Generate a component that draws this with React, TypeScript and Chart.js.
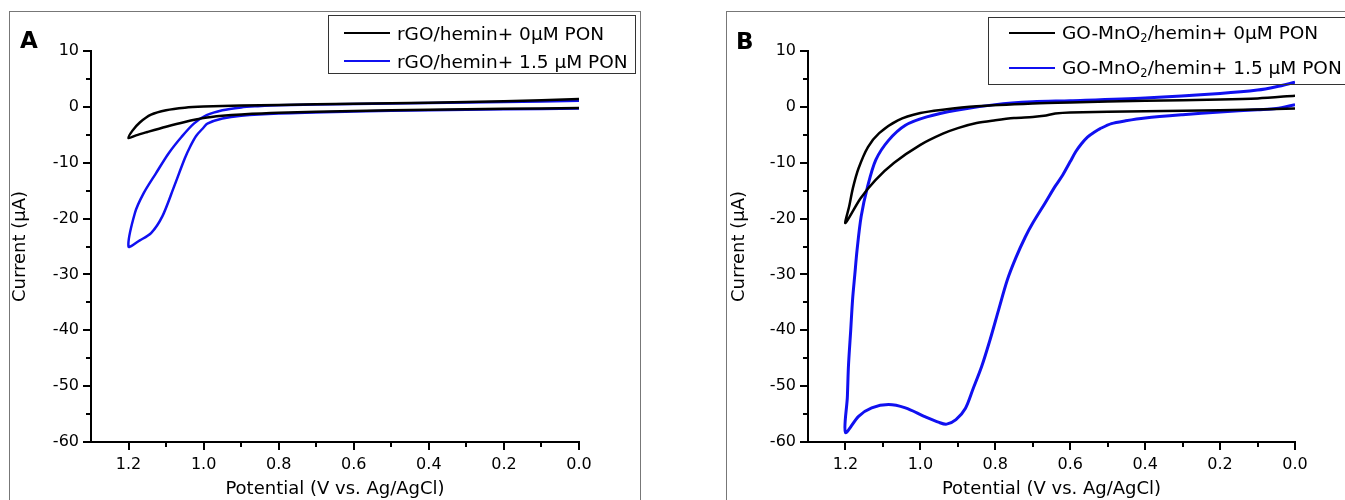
import React, { useEffect, useRef } from "react";
import { Chart, registerables } from "chart.js";

Chart.register(...registerables);

// ---------- tick values ----------
const xTickValues = [1.2, 1.0, 0.8, 0.6, 0.4, 0.2, 0.0];
const xMinorValues = [1.1, 0.9, 0.7, 0.5, 0.3, 0.1];
const yTickValues = [10, 0, -10, -20, -30, -40, -50, -60];
const yMinorValues = [5, -5, -15, -25, -35, -45, -55];

// ---------- panel A : rGO/hemin ----------
const aBlackV = [0.0, 0.2, 0.4, 0.6, 0.8, 0.9, 0.95, 1.0, 1.05, 1.1, 1.15, 1.18, 1.2,
  1.19, 1.17, 1.14, 1.1, 1.05, 1.0, 0.9, 0.8, 0.6, 0.4, 0.2, 0.0];
const aBlackI = [-0.2, -0.35, -0.5, -0.75, -1.05, -1.35, -1.6, -2.0, -2.7, -3.55, -4.5, -5.1, -5.6,
  -4.3, -2.8, -1.4, -0.6, -0.15, 0.05, 0.25, 0.35, 0.55, 0.75, 1.0, 1.4];

const aBlueV = [0.0, 0.2, 0.4, 0.6, 0.8, 0.9, 0.95, 0.99, 1.0, 1.02, 1.035, 1.05, 1.08, 1.11, 1.14, 1.17, 1.2,
  1.183, 1.16, 1.127, 1.093, 1.059, 1.026, 0.992, 0.95, 0.9, 0.86, 0.8, 0.6, 0.4, 0.2, 0.0];
const aBlueI = [-0.3, -0.45, -0.6, -0.85, -1.2, -1.6, -2.1, -3.0, -3.7, -5.2, -7.0, -9.2, -14.5, -19.6, -22.6, -23.9, -25.0,
  -19.0, -15.5, -11.9, -8.3, -5.4, -3.0, -1.5, -0.6, -0.1, 0.1, 0.3, 0.5, 0.7, 0.85, 1.1];

// ---------- panel B : GO-MnO2/hemin ----------
const bBlackV = [0.0, 0.2, 0.4, 0.6, 0.64, 0.67, 0.7, 0.75, 0.8, 0.85, 0.9, 0.94, 1.0, 1.07, 1.12, 1.16, 1.2,
  1.19, 1.18, 1.165, 1.14, 1.11, 1.06, 1.0, 0.94, 0.85, 0.7, 0.6, 0.4, 0.2, 0.1, 0.0];
const bBlackI = [-0.3, -0.6, -0.8, -1.0, -1.2, -1.6, -1.8, -2.0, -2.4, -2.9, -3.8, -4.8, -6.8, -10.0, -13.1, -16.4, -20.8,
  -17.8, -14.5, -11.0, -7.2, -4.7, -2.4, -1.1, -0.5, 0.1, 0.6, 0.8, 1.1, 1.3, 1.5, 2.0];

const bBlueV = [0.0, 0.05, 0.1, 0.2, 0.3, 0.4, 0.452, 0.49, 0.52, 0.535, 0.554, 0.57, 0.585, 0.6, 0.62, 0.64, 0.667, 0.7, 0.72, 0.745, 0.768, 0.791, 0.814, 0.836, 0.86, 0.88, 0.905, 0.93, 0.95, 0.99, 1.04, 1.085, 1.13, 1.165, 1.2,
  1.195, 1.192, 1.186, 1.181, 1.175, 1.169, 1.158, 1.141, 1.119, 1.085, 1.04, 0.983, 0.904, 0.8, 0.7, 0.6, 0.4, 0.2, 0.1, 0.05, 0.0];
const bBlueI = [0.4, -0.3, -0.5, -0.9, -1.4, -2.0, -2.5, -3.0, -3.9, -4.5, -5.4, -6.6, -8.0, -9.8, -12.2, -14.2, -17.2, -20.8, -23.3, -27.0, -31.0, -36.3, -41.7, -46.4, -50.6, -54.0, -56.0, -56.8, -56.5, -55.4, -53.9, -53.3, -53.9, -55.4, -58.3,
  -52.0, -46.4, -40.0, -34.5, -30.0, -25.6, -19.6, -14.3, -9.5, -6.0, -3.3, -1.8, -0.6, 0.4, 0.9, 1.1, 1.6, 2.4, 3.0, 3.6, 4.4];

const FONT = "DejaVu Sans";
const BLUE = "#1010f0";

const toPoints = (v: number[], i: number[]) => v.map((x, k) => ({ x, y: i[k] }));

const tickPlugin = {
  id: "cvTicks",
  afterDraw(chart: any) {
    const { ctx, chartArea } = chart;
    const xs = chart.scales.x;
    const ys = chart.scales.y;
    ctx.save();
    ctx.strokeStyle = "#000";
    ctx.lineWidth = 2;
    const xTick = (v: number, len: number) => {
      const p = Math.round(xs.getPixelForValue(v));
      ctx.beginPath();
      ctx.moveTo(p, chartArea.bottom);
      ctx.lineTo(p, chartArea.bottom + len);
      ctx.stroke();
    };
    const yTick = (v: number, len: number) => {
      const p = Math.round(ys.getPixelForValue(v));
      ctx.beginPath();
      ctx.moveTo(chartArea.left, p);
      ctx.lineTo(chartArea.left - len, p);
      ctx.stroke();
    };
    xTickValues.forEach((v) => xTick(v, 8));
    xMinorValues.forEach((v) => xTick(v, 5));
    yTickValues.forEach((v) => yTick(v, 8));
    yMinorValues.forEach((v) => yTick(v, 5));
    ctx.restore();
  },
};

function makeConfig(
  black: { x: number; y: number }[],
  blue: { x: number; y: number }[],
  layoutPad: { left: number; right: number; top: number; bottom: number },
  yWidth: number,
  yTitlePad: number,
  blueWidth: number
): any {
  return {
    type: "scatter",
    data: {
      datasets: [
        { data: black, borderColor: "#000000", borderWidth: 2.5, showLine: true, pointRadius: 0, tension: 0.3, fill: false },
        { data: blue, borderColor: BLUE, borderWidth: blueWidth, showLine: true, pointRadius: 0, tension: 0.3, fill: false },
      ],
    },
    plugins: [tickPlugin],
    options: {
      responsive: false,
      animation: false,
      maintainAspectRatio: false,
      layout: { padding: layoutPad },
      plugins: { legend: { display: false }, tooltip: { enabled: false } },
      scales: {
        x: {
          type: "linear",
          min: 0,
          max: 1.3,
          reverse: true,
          afterBuildTicks: (s: any) => {
            s.ticks = xTickValues.map((v) => ({ value: v }));
          },
          afterFit: (s: any) => {
            s.height = 58;
          },
          grid: { display: false, drawTicks: false },
          border: { display: true, color: "#000", width: 2 },
          ticks: {
            padding: 13,
            color: "#000",
            autoSkip: false,
            maxRotation: 0,
            font: { family: FONT, size: 16 },
            callback: (v: any) => Number(v).toFixed(1),
          },
          title: {
            display: true,
            text: "Potential (V vs. Ag/AgCl)",
            color: "#000",
            font: { family: FONT, size: 18 },
            padding: { top: 0, bottom: 0 },
          },
        },
        y: {
          type: "linear",
          min: -60,
          max: 10,
          afterBuildTicks: (s: any) => {
            s.ticks = yTickValues.map((v) => ({ value: v }));
          },
          afterFit: (s: any) => {
            s.width = yWidth;
          },
          grid: { display: false, drawTicks: false },
          border: { display: true, color: "#000", width: 2 },
          ticks: {
            padding: 12,
            color: "#000",
            autoSkip: false,
            font: { family: FONT, size: 16 },
            callback: (v: any) => String(v),
          },
          title: {
            display: true,
            text: "Current (μA)",
            color: "#000",
            font: { family: FONT, size: 18 },
            padding: { top: yTitlePad, bottom: 0 },
          },
        },
      },
    },
  };
}

const legendRow = (top: number, left: number, color: string, label: React.ReactNode) => (
  <div
    style={{
      position: "absolute",
      left,
      top: top - 12,
      height: 24,
      display: "flex",
      alignItems: "center",
      whiteSpace: "nowrap",
      fontFamily: FONT,
      fontSize: 18.5,
      color: "#000",
    }}
  >
    <span style={{ display: "inline-block", width: 46, height: 0, borderTop: `2.5px solid ${color}`, marginRight: 7 }} />
    <span>{label}</span>
  </div>
);

const sub2 = <sub style={{ fontSize: "0.62em", lineHeight: 1, verticalAlign: "-0.3em" }}>2</sub>;

export default function App() {
  const refA = useRef<HTMLCanvasElement>(null);
  const refB = useRef<HTMLCanvasElement>(null);

  useEffect(() => {
    const cA = new Chart(
      refA.current as HTMLCanvasElement,
      makeConfig(toPoints(aBlackV, aBlackI), toPoints(aBlueV, aBlueI), { left: 0, right: 101, top: 51, bottom: 0 }, 91, 10, 2.5)
    );
    const cB = new Chart(
      refB.current as HTMLCanvasElement,
      makeConfig(toPoints(bBlackV, bBlackI), toPoints(bBlueV, bBlueI), { left: 0, right: 50, top: 51, bottom: 0 }, 128, 49, 3)
    );
    return () => {
      cA.destroy();
      cB.destroy();
    };
  }, []);

  return (
    <div style={{ position: "absolute", left: 0, top: 0, width: 1345, height: 500, overflow: "hidden", background: "#fff" }}>
      {/* panel frames */}
      <div style={{ position: "absolute", left: 9, top: 11, width: 632, height: 520, border: "1px solid #777", boxSizing: "border-box" }} />
      <div style={{ position: "absolute", left: 726, top: 11, width: 700, height: 520, border: "1px solid #777", boxSizing: "border-box" }} />

      <canvas ref={refA} width={680} height={500} style={{ position: "absolute", left: 0, top: 0, width: 680, height: 500 }} />
      <canvas ref={refB} width={665} height={500} style={{ position: "absolute", left: 680, top: 0, width: 665, height: 500 }} />

      {/* panel letters */}
      <div style={{ position: "absolute", left: 20, top: 29, fontFamily: FONT, fontWeight: "bold", fontSize: 23, lineHeight: 1 }}>A</div>
      <div style={{ position: "absolute", left: 736, top: 30, fontFamily: FONT, fontWeight: "bold", fontSize: 23, lineHeight: 1 }}>B</div>

      {/* legend A */}
      <div style={{ position: "absolute", left: 328, top: 15, width: 308, height: 59, border: "1px solid #333", boxSizing: "border-box" }} />
      {legendRow(33, 344, "#000000", "rGO/hemin+ 0μM PON")}
      {legendRow(61, 344, BLUE, "rGO/hemin+ 1.5 μM PON")}

      {/* legend B */}
      <div style={{ position: "absolute", left: 988, top: 17, width: 400, height: 68, border: "1px solid #333", boxSizing: "border-box" }} />
      {legendRow(33, 1009, "#000000", <>GO-MnO{sub2}/hemin+ 0μM PON</>)}
      {legendRow(68, 1009, BLUE, <>GO-MnO{sub2}/hemin+ 1.5 μM PON</>)}
    </div>
  );
}
